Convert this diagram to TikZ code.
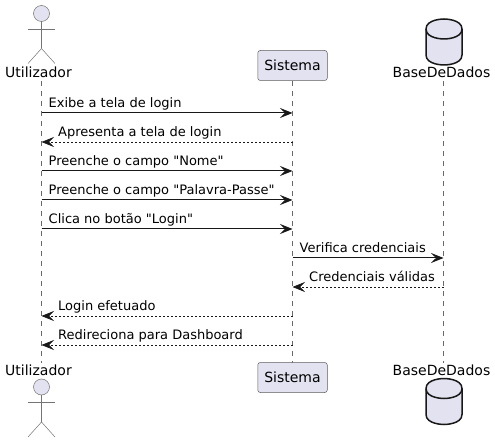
\documentclass[tikz,border=0pt]{standalone}
\usepackage{fontspec}
\newfontfamily\uifont{DejaVu Sans}
\usetikzlibrary{arrows.meta}
\definecolor{fillc}{HTML}{E2E2F0}
\definecolor{inkc}{HTML}{181818}
\tikzset{
  lbl/.style={inner sep=0pt,anchor=base west,font=\uifont\fontsize{13}{15}\selectfont,text=black},
  partname/.style={inner sep=0pt,anchor=base,font=\uifont\fontsize{14}{16}\selectfont,text=black},
  lifeline/.style={draw=inkc!65,line width=0.5pt,dash pattern=on 5pt off 5pt},
  sync/.style={draw=inkc,line width=1pt,-{Stealth[length=12.5pt,width=10pt,inset=5pt,fill=inkc]}},
  reply/.style={draw=inkc,line width=0.7pt,dash pattern=on 2pt off 2pt,-{Stealth[length=12.5pt,width=10pt,inset=5pt,fill=inkc,sep=0pt]}},
  partbox/.style={draw=inkc!70,fill=fillc,line width=0.5pt,rounded corners=2.5pt,minimum width=69.5pt,minimum height=30pt,inner sep=0pt,font=\uifont\fontsize{14}{16}\selectfont,text=black},
  actorline/.style={draw=inkc!60,line width=0.5pt},
  actorhead/.style={draw=inkc!60,fill=fillc,line width=0.5pt},
  dbshape/.style={draw=inkc,fill=fillc,line width=1.5pt},
}
\newcommand{\actorfig}[2]{% x, head centre y
  \draw[actorhead] (#1,#2) circle (8pt);
  \draw[actorline] (#1,#2+8) -- (#1,#2+35);
  \draw[actorline] (#1-13.5,#2+15.5) -- (#1+13.5,#2+15.5);
  \draw[actorline] (#1-13.5,#2+50) -- (#1,#2+35) -- (#1+13.5,#2+50);
}
\newcommand{\dbfig}[2]{% centre x, top y
  \draw[dbshape] (#1-18,#2+10) .. controls (#1-18,#2) and (#1,#2) .. (#1,#2)
    .. controls (#1,#2) and (#1+18,#2) .. (#1+18,#2+10)
    -- (#1+18,#2+36) .. controls (#1+18,#2+46) and (#1,#2+46) .. (#1,#2+46)
    .. controls (#1,#2+46) and (#1-18,#2+46) .. (#1-18,#2+36) -- cycle;
  \draw[dbshape,fill=none] (#1-18,#2+10) .. controls (#1-18,#2+20) and (#1,#2+20) .. (#1,#2+20)
    .. controls (#1,#2+20) and (#1+18,#2+20) .. (#1+18,#2+10);
}
\begin{document}
\begin{tikzpicture}[x=1pt,y=-1pt]
\useasboundingbox (0,0) rectangle (495,443);
% lifelines
\coordinate (uT) at (41.5,81);  \coordinate (uB) at (41.5,363);
\coordinate (sT) at (292.5,81); \coordinate (sB) at (292.5,363);
\coordinate (dT) at (443.5,81); \coordinate (dB) at (443.5,363);
\draw[lifeline] (uT) -- (uB);
\draw[lifeline] (sT) -- (sB);
\draw[lifeline] (dT) -- (dB);
% participants
\actorfig{41.5}{13.5}
\actorfig{41.5}{387}
\node[partname] (ut) at (38.5,78) {Utilizador};
\node[partname] (ub) at (38.5,375) {Utilizador};
\node[partbox] (st) at (292.5,65.5) {Sistema};
\node[partbox] (sb) at (292.5,377.5) {Sistema};
\dbfig{444}{19}
\dbfig{444}{378.5}
\node[partname] (dt) at (441.5,78) {BaseDeDados};
\node[partname] (db) at (441.5,375) {BaseDeDados};
% anchors on lifelines
\foreach \n/\y in {1/113,2/142,3/171,4/200,5/229,6/258,7/287,8/316,9/345}{
  \coordinate (u\n) at (41.5,\y);
  \coordinate (s\n) at (292.5,\y);
  \coordinate (d\n) at (443.5,\y);
}
% messages
\draw[sync] (u1) -- (s1);
\draw[reply] (s2) -- (u2);
\draw[sync] (u3) -- (s3);
\draw[sync] (u4) -- (s4);
\draw[sync] (u5) -- (s5);
\draw[sync] (s6) -- (d6);
\draw[reply] (d7) -- (s7);
\draw[reply] (s8) -- (u8);
\draw[reply] (s9) -- (u9);
\node[lbl] (m1) at (48.5,108) {Exibe a tela de login};
\node[lbl] (m2) at (58,137) {Apresenta a tela de login};
\node[lbl] (m3) at (48.5,166) {Preenche o campo "Nome"};
\node[lbl] (m4) at (48.5,195) {Preenche o campo "Palavra-Passe"};
\node[lbl] (m5) at (48.5,224) {Clica no botão "Login"};
\node[lbl] (m6) at (299.5,253) {Verifica credenciais};
\node[lbl] (m7) at (309,282) {Credenciais válidas};
\node[lbl] (m8) at (58,311) {Login efetuado};
\node[lbl] (m9) at (58,340) {Redireciona para Dashboard};
\end{tikzpicture}
\end{document}
